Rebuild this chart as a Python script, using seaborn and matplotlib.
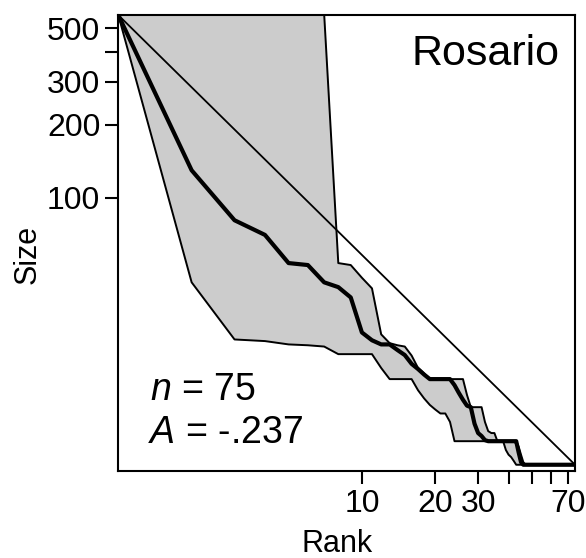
import matplotlib
matplotlib.use("Agg")
import matplotlib.pyplot as plt
from matplotlib.ticker import NullLocator, FixedLocator, FixedFormatter
import pandas as pd
import seaborn as sns

# Rank-size data: observed sizes plus the upper/lower bounds of the envelope
ranks = list(range(1, 76))

observed = [565, 130, 81, 70.5, 54, 53, 45, 43, 39, 28,
            26, 25, 25, 23.7, 22.6, 20.8, 19.8, 18.8, 18, 18,
            18, 18, 18, 17, 15.8, 14.8, 14, 13.8, 11.8, 10.8,
            10.5, 10.1, 10, 10, 10, 10, 10, 10, 10, 10,
            10, 10, 10, 9, 8.2, 8, 8, 8, 8, 8,
            8, 8, 8, 8, 8, 8, 8, 8, 8, 8,
            8, 8, 8, 8, 8, 8, 8, 8, 8, 8,
            8, 8, 8, 8, 8]

upper = [565, 900, 900, 900, 900, 900, 570, 54, 53, 47,
         42.5, 27.5, 25.3, 24.8, 24.5, 22.5, 20, 19, 18, 18,
         18, 18, 18, 18, 18, 18, 15.5, 13.8, 13.8, 13.8,
         13.8, 12, 11, 10.8, 10.8, 10, 10, 10, 10, 10,
         10, 10, 10, 9.5, 8.8, 8.2, 8, 8, 8, 8,
         8, 8, 8, 8, 8, 8, 8, 8, 8, 8,
         8, 8, 8, 8, 8, 8, 8, 8, 8, 8,
         8, 8, 8, 8, 8]

lower = [565, 45, 26.2, 25.8, 25, 24.8, 24.5, 22.8, 22.8, 22.8,
         22.8, 20, 18, 18, 18, 18, 16.2, 15, 14.1, 13.5,
         13, 13, 12, 10, 10, 10, 10, 10, 10, 10,
         10, 10, 10, 10, 10, 10, 10, 10, 9.2, 8.8,
         8.6, 8.3, 8, 8, 8, 8, 8, 8, 8, 8,
         8, 8, 8, 8, 8, 8, 8, 8, 8, 8,
         8, 8, 8, 8, 8, 8, 8, 8, 8, 8,
         8, 8, 8, 8, 8]

site_name = "Rosario"
n_text = "$n$ = 75"
a_text = "$A$ = -.237"

x_ticks = [10, 20, 30, 40, 50, 60, 70]
x_ticklabels = ["10", "20", "30", "", "", "", "70"]
y_ticks = [100, 200, 300, 400, 500]
y_ticklabels = ["100", "200", "300", "", "500"]

sns.set_style("ticks")
plt.rcParams["font.family"] = ["Liberation Sans", "DejaVu Sans"]
plt.rcParams["mathtext.fontset"] = "custom"
plt.rcParams["mathtext.it"] = "Liberation Sans:italic"
plt.rcParams["mathtext.rm"] = "Liberation Sans"
plt.rcParams["text.color"] = "black"
plt.rcParams["axes.labelcolor"] = "black"
plt.rcParams["xtick.color"] = "black"
plt.rcParams["ytick.color"] = "black"

df = pd.DataFrame({"Rank": ranks, "Size": observed,
                   "upper": upper, "lower": lower})

fig = plt.figure(figsize=(5.86, 5.58), dpi=100)
ax = fig.add_axes([0.2019, 0.1559, 0.7794, 0.8172])
ax.set_xscale("log")
ax.set_yscale("log")

# envelope
ax.fill_between(df["Rank"], df["lower"], df["upper"],
                color="#cccccc", lw=0, zorder=1)
sns.lineplot(data=df, x="Rank", y="upper", color="black", lw=1.4,
             ax=ax, zorder=2)
sns.lineplot(data=df, x="Rank", y="lower", color="black", lw=1.4,
             ax=ax, zorder=2)

# log-normal reference line from the largest to the smallest unit
ax.plot([ranks[0], ranks[-1]], [observed[0], observed[-1]],
        color="black", lw=1.3, zorder=3)

# observed rank-size curve
sns.lineplot(data=df, x="Rank", y="Size", color="black", lw=3.0,
             ax=ax, zorder=4)

ax.set_xlim(1, 75)
ax.set_ylim(7.54, 565.5)

ax.xaxis.set_major_locator(FixedLocator(x_ticks))
ax.xaxis.set_major_formatter(FixedFormatter(x_ticklabels))
ax.xaxis.set_minor_locator(NullLocator())
ax.yaxis.set_major_locator(FixedLocator(y_ticks))
ax.yaxis.set_major_formatter(FixedFormatter(y_ticklabels))
ax.yaxis.set_minor_locator(NullLocator())

for sp in ax.spines.values():
    sp.set_visible(True)
    sp.set_color("black")
    sp.set_linewidth(1.5)

ax.tick_params(axis="both", which="major", direction="out", length=9.5,
               width=1.5, color="black", labelsize=23, pad=3.5,
               labelcolor="black")

ax.set_xlabel("Rank", fontsize=22, color="black")
ax.set_ylabel("Size", fontsize=22, color="black")
ax.xaxis.set_label_coords(0.48, -0.127)
ax.yaxis.set_label_coords(-0.165, 0.474)

ax.text(0.965, 0.89, site_name, transform=ax.transAxes, ha="right",
        va="baseline", fontsize=31, color="black")
ax.text(0.069, 0.156, n_text, transform=ax.transAxes, ha="left",
        va="baseline", fontsize=27, color="black")
ax.text(0.065, 0.061, a_text, transform=ax.transAxes, ha="left",
        va="baseline", fontsize=27, color="black")

fig.savefig("out.png", dpi=100)
